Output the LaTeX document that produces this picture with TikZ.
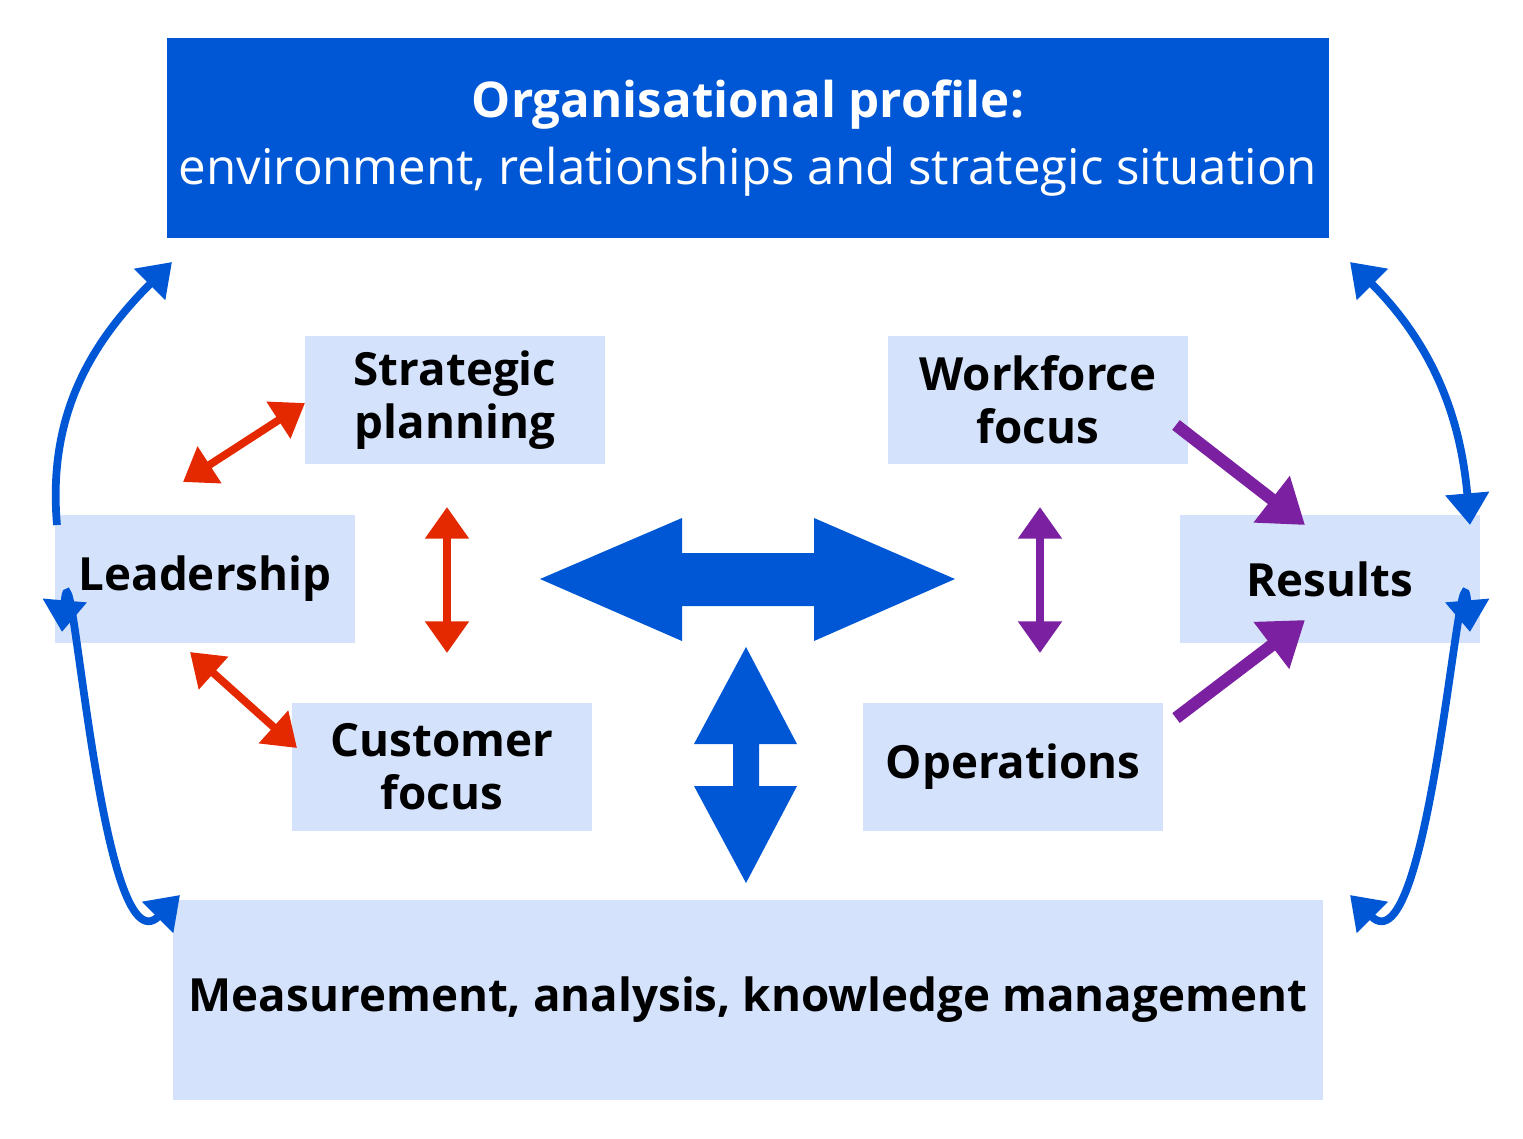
\documentclass[tikz,border=0pt]{standalone}
\usepackage{fontspec}
\setmainfont{Open Sans}
\usetikzlibrary{arrows.meta}
\definecolor{deepblue}{RGB}{0,87,214}
\definecolor{paleblue}{RGB}{212,226,252}
\definecolor{redarr}{RGB}{228,40,0}
\definecolor{purparr}{RGB}{122,32,160}
\tikzset{
  box/.style={fill=paleblue,minimum width=2.99cm,minimum height=1.28cm,align=center,
    font=\fontsize{13}{15}\selectfont\bfseries},
  redlink/.style={draw=redarr,line width=2.2pt,{Triangle[length=9pt,width=12pt]}-{Triangle[length=9pt,width=12pt]}},
  purplink/.style={draw=purparr,line width=2.2pt,{Triangle[length=9pt,width=12pt]}-{Triangle[length=9pt,width=12pt]}},
  purpone/.style={draw=purparr,line width=3.5pt,-{Triangle[length=12pt,width=16pt]}},
  bluelink/.style={draw=deepblue,line width=2.2pt,{Triangle[length=9pt,width=12pt]}-{Triangle[length=9pt,width=12pt]}}
}
\begin{document}
\begin{tikzpicture}[x=0.01cm,y=-0.01cm]
\useasboundingbox (0,0) rectangle (1523,1138);
% boxes
\node[fill=deepblue,text=white,minimum width=11.5cm,minimum height=2cm,align=center,
  font=\fontsize{14}{19}\selectfont] (profile) at (748,138)
  {\textbf{Organisational profile:}\\environment, relationships and strategic situation};
\node[box] (strategy) at (455,400) {Strategic\\planning};
\node[box] (workforce) at (1038,400) {Workforce\\focus};
\node[box] (leader) at (205,579) {Leadership};
\node[box] (results) at (1330,579) {Results};
\node[box] (customer) at (442,767) {Customer\\focus};
\node[box] (ops) at (1013,767) {Operations};
\node[box,minimum width=11.5cm,minimum height=2cm] (measure) at (748,1000)
  {Measurement, analysis, knowledge management};
% connector ends
\coordinate (lsA) at (183,482); \coordinate (lsB) at (305,403);
\coordinate (scA) at (447,507); \coordinate (scB) at (447,653);
\coordinate (lcA) at (190,652); \coordinate (lcB) at (297,748);
\coordinate (woA) at (1040,507); \coordinate (woB) at (1040,653);
\coordinate (wr) at (1176,425); \coordinate (rw) at (1305,525);
\coordinate (or) at (1176,718); \coordinate (ro) at (1305,620);
\coordinate (lup) at (57,525); \coordinate (pl) at (172,262);
\coordinate (ldn) at (62,632); \coordinate (ml) at (180,895);
\coordinate (pr) at (1350,262); \coordinate (rup) at (1470,525);
\coordinate (rdn) at (1470,632); \coordinate (mr) at (1350,895);
% red links
\draw[redlink] (lsA) -- (lsB);
\draw[redlink] (scA) -- (scB);
\draw[redlink] (lcA) -- (lcB);
% purple links
\draw[purplink] (woA) -- (woB);
\draw[purpone] (wr) -- (rw);
\draw[purpone] (or) -- (ro);
% outer curves
\draw[draw=deepblue,line width=2.2pt,-{Triangle[length=9pt,width=12pt]}] (lup) to[out=95,in=225] (pl);
\draw[bluelink] (ldn) to[out=85,in=225] (ml);
\draw[bluelink] (pr) to[out=-45,in=95] (rup);
\draw[bluelink] (rdn) to[out=95,in=-45] (mr);
% big arrows
\fill[deepblue] (540,579) -- (682,518) -- (682,553) -- (814,553) -- (814,518) -- (955,579)
  -- (814,641) -- (814,606) -- (682,606) -- (682,641) -- cycle;
\fill[deepblue] (746,647) -- (797,744) -- (759,744) -- (759,786) -- (797,786) -- (746,883)
  -- (694,786) -- (733,786) -- (733,744) -- (694,744) -- cycle;
\end{tikzpicture}
\end{document}
